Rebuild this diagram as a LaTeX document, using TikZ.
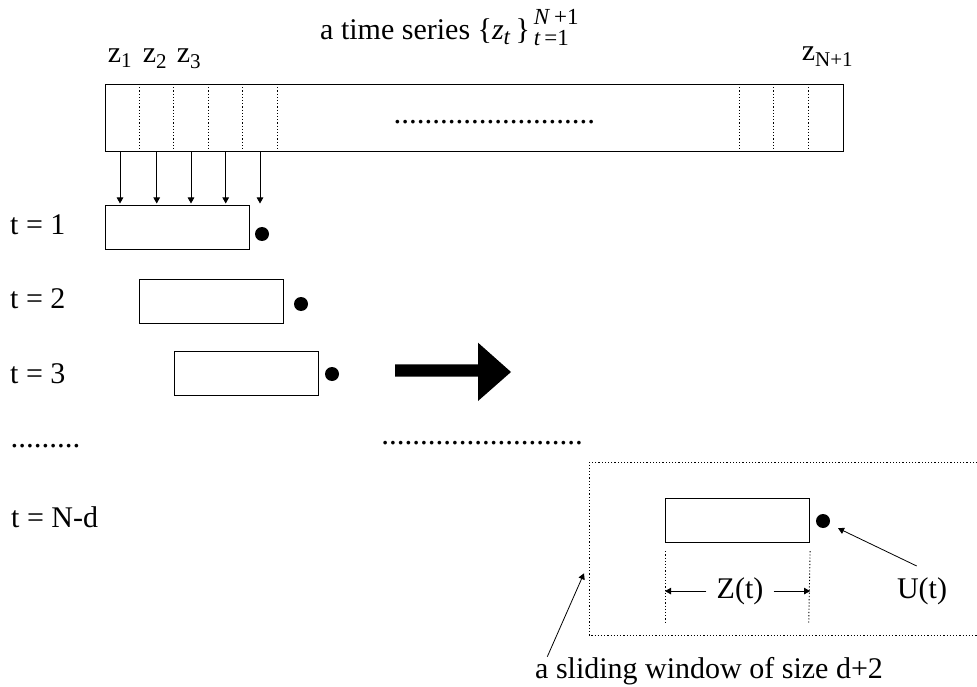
\documentclass[tikz,border=0pt]{standalone}
\usepackage{fontspec}
\setmainfont{Liberation Serif}
\usetikzlibrary{arrows.meta}
\newcommand{\bigtxt}{\fontsize{30}{36}\selectfont}
\newcommand{\scr}{\fontsize{23}{26}\selectfont}
\begin{document}
\begin{tikzpicture}[x=1pt,y=-1pt,
  lbl/.style={inner sep=0pt, font=\bigtxt},
  dotrow/.style={inner sep=0pt, font=\fontsize{31}{36}\selectfont, anchor=base west},
  cell/.style={draw, line width=1.1pt, inner sep=0pt, anchor=north west},
  winbox/.style={cell, minimum width=144pt, minimum height=44pt},
  ball/.style={circle, fill=black, inner sep=0pt, minimum size=14pt},
  sep/.style={line width=0.9pt, dash pattern=on 1.2pt off 2pt},
  arr/.style={line width=0.8pt, -{Triangle[length=6pt,width=6.5pt]}}]
\useasboundingbox (0,0) rectangle (977,687);

% title
\node[lbl, anchor=base west] (title) at (320,39.3) {a time series \{\textit{z}\raisebox{-5pt}{\scr\textit{t}}\,\}\rlap{\raisebox{15pt}{\scr\,\textit{N}\,+1}}\raisebox{-6pt}{\scr\,\textit{t}\,=1}};

% z labels
\node[lbl, anchor=base west] (z1) at (107.7,62.7) {z\textsubscript{1}};
\node[lbl, anchor=base west] (z2) at (142.7,62.7) {z\textsubscript{2}};
\node[lbl, anchor=base west] (z3) at (176.7,62.7) {z\textsubscript{3}};
\node[lbl, anchor=base west] (zN) at (801.7,61) {z\textsubscript{N+1}};

% the series bar
\node[cell, minimum width=738pt, minimum height=67pt] (bar) at (105,84) {};
\foreach \xx in {139.3,173.3,208.3,242.3,277.3,739.3,773.3,808.3}
  \draw[sep] (\xx,0 |- bar.north) -- (\xx,0 |- bar.south);
\node[dotrow] (bardots) at (393.5,123.2) {..........................};

% windows
\node[winbox] (w1) at (105,205) {};
\node[winbox] (w2) at (139,279) {};
\node[winbox] (w3) at (174,351) {};
\node[winbox] (w4) at (665,498) {};
\node[ball] (d1) at (262,234) {};
\node[ball] (d2) at (301,304) {};
\node[ball] (d3) at (332,374) {};
\node[ball] (d4) at (823,521) {};

% arrows from bar into first window
\foreach \xx in {120,156.7,191,225.7,260}
  \draw[arr] (\xx,0 |- bar.south) -- (\xx,203.5);

% t labels
\node[lbl, anchor=base west] (t1) at (10,234) {t = 1};
\node[lbl, anchor=base west] (t2) at (10,308) {t = 2};
\node[lbl, anchor=base west] (t3) at (10,383) {t = 3};
\node[lbl, anchor=base west] (tN) at (11,527) {t = N-d};

\node[dotrow] (ldots) at (10.5,447.5) {.........};
\node[dotrow] (mdots) at (381.2,444.8) {..........................};

% big arrow
\fill (395,364.3) -- (478,364.3) -- (478,342.7) -- (511,372) -- (478,401)
  -- (478,376.7) -- (395,376.7) -- cycle;

% sliding window
\draw[sep] (990,462.3) -- (589,462.3) -- (589,635) -- (990,635);
\draw[sep] (w4.south west) ++(0,8) -- (665,624);
\draw[sep] (w4.south east) ++(0,8) -- (808.7,624);

\node[lbl, anchor=base, inner xsep=10pt] (zl) at (740,598.3) {Z(t)};
\draw[arr] (zl.west) -- (zl.west -| w4.west);
\draw[arr] (zl.east) -- (zl.east -| w4.east);

\node[lbl, anchor=base] (ul) at (922,598.3) {U(t)};
\draw[arr, shorten >=9.5pt] (916.7,566) -- (d4);

\node[lbl, anchor=base west] (sw) at (535,678) {a sliding window of size d+2};
\coordinate (sa) at (547.3,656.7);
\coordinate (sb) at (584,573.3);
\draw[arr] (sa) -- (sb);
\end{tikzpicture}
\end{document}
